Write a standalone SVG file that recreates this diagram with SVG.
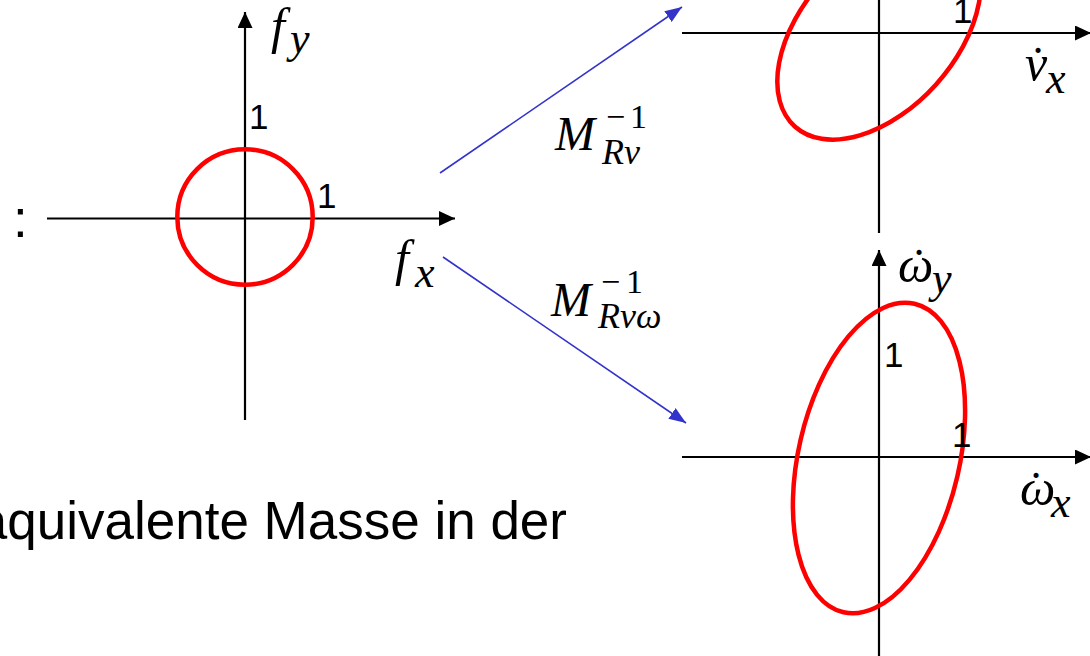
<svg xmlns="http://www.w3.org/2000/svg" width="1090" height="656" viewBox="0 0 1090 656">
<defs>
<style>
.ax{stroke:#000;stroke-width:2.2;fill:none}
.ax-a{stroke:#000;stroke-width:2.2;fill:none;marker-end:url(#ah)}
.ell{stroke:#FF0000;stroke-width:4.5;fill:none}
.con{stroke:#3333CC;stroke-width:1.6;fill:none;marker-end:url(#bh)}
.s{font-family:'Liberation Sans','Arimo',Arial,sans-serif;fill:#000}
.n{font-family:'Liberation Sans','Arimo',Arial,sans-serif;font-size:35px;fill:#000}
.m{font-family:'Times New Roman','Liberation Serif','Tinos','DejaVu Serif',serif;fill:#000}
.i{font-style:italic}
</style>
<marker id="ah" markerUnits="userSpaceOnUse" markerWidth="16" markerHeight="15" viewBox="0 0 16 15" refX="16" refY="7.5" orient="auto">
<path d="M0,0 L16,7.5 L0,15 z" fill="#000"/>
</marker>
<marker id="bh" markerUnits="userSpaceOnUse" markerWidth="17" markerHeight="13" viewBox="0 0 17 13" refX="17" refY="6.5" orient="auto">
<path d="M0,0 L17,6.5 L0,13 z" fill="#3333CC"/>
</marker>
</defs>
<rect width="1090" height="656" fill="#fff"/>

<text class="s" font-size="53" x="13" y="237">:</text>
<text class="s" font-size="53" x="567" y="539" text-anchor="end">äquivalente Masse in der</text>

<g id="plot-f">
<line class="ax-a" x1="47" y1="218.5" x2="455" y2="218.5"/>
<line class="ax-a" x1="245" y1="420" x2="245" y2="12"/>
<circle class="ell" cx="245" cy="217" r="67.7"/>
<text class="n" x="249" y="129">1</text>
<text class="n" x="317" y="208">1</text>
<text class="m i" font-size="50" x="271" y="43">f</text>
<text class="m i" font-size="44" x="290" y="53">y</text>
<text class="m i" font-size="50" x="395" y="275">f</text>
<text class="m i" font-size="44" x="415" y="287">x</text>
</g>

<g id="plot-v">
<line class="ax-a" x1="682" y1="33" x2="1091" y2="33"/>
<line class="ax" x1="879" y1="0" x2="879" y2="233"/>
<ellipse class="ell" cx="0" cy="0" rx="76.8" ry="125.8" transform="translate(879,33) rotate(42)"/>
<text class="n" x="953" y="23">1</text>
<text class="m i" font-size="50" x="1025" y="80">v</text>
<text class="m" font-size="48" x="1038" y="80" text-anchor="middle">˙</text>
<text class="m i" font-size="44" x="1046" y="93">x</text>
</g>

<g id="plot-w">
<line class="ax-a" x1="682" y1="457" x2="1091" y2="457"/>
<line class="ax-a" x1="879" y1="656" x2="879" y2="250"/>
<ellipse class="ell" cx="0" cy="0" rx="80.5" ry="158.3" transform="translate(879,458) rotate(12.95)"/>
<text class="n" x="884" y="367">1</text>
<text class="n" x="952" y="447">1</text>
<text class="m i" font-size="50" x="898" y="282">ω</text>
<text class="m" font-size="48" x="919" y="282" text-anchor="middle">˙</text>
<text class="m i" font-size="44" x="932" y="293">y</text>
<text class="m i" font-size="50" x="1020" y="505">ω</text>
<text class="m" font-size="48" x="1036" y="505" text-anchor="middle">˙</text>
<text class="m i" font-size="44" x="1051" y="517">x</text>
</g>

<g id="connectors">
<line class="con" x1="440" y1="173" x2="682" y2="7"/>
<line class="con" x1="443" y1="257" x2="686" y2="423"/>
</g>

<g id="label-Mv">
<text class="m i" font-size="48" x="555" y="150">M</text>
<text class="m" font-size="34" x="606" y="128">−</text>
<text class="m" font-size="34" x="630" y="128">1</text>
<text class="m i" font-size="36" x="602" y="164">Rv</text>
</g>

<g id="label-Mw">
<text class="m i" font-size="48" x="551" y="316">M</text>
<text class="m" font-size="34" x="601" y="293">−</text>
<text class="m" font-size="34" x="626" y="293">1</text>
<text class="m i" font-size="36" x="598" y="328">Rvω</text>
</g>
</svg>
